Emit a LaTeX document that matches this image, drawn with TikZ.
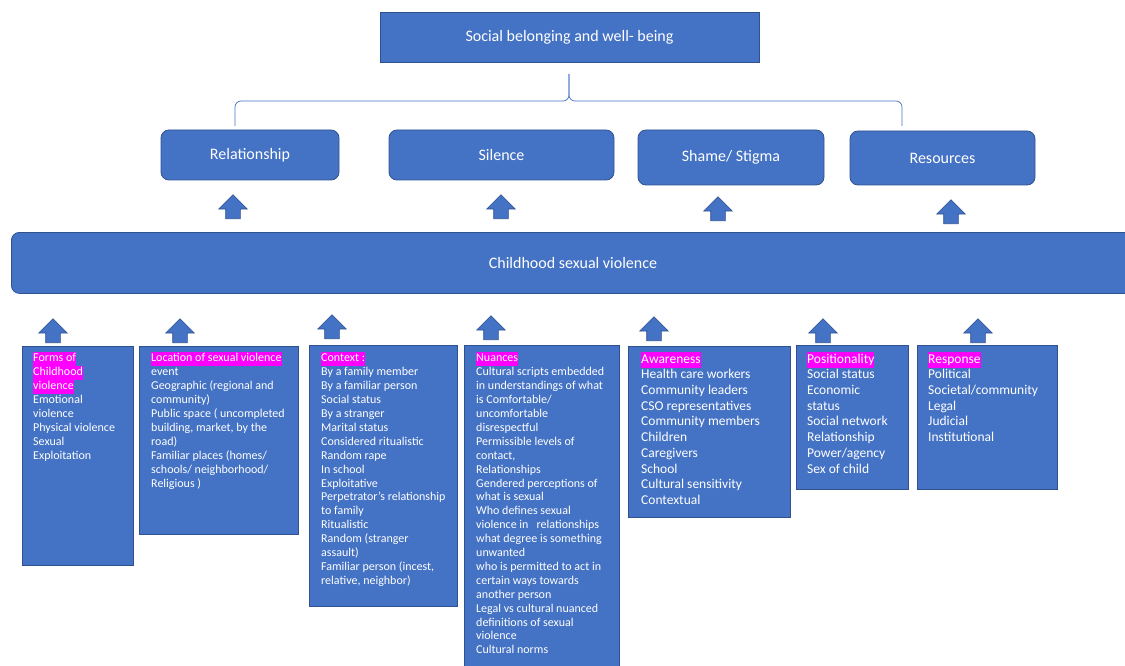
\documentclass[tikz,border=0pt]{standalone}
\usepackage{fontspec}
\setmainfont{Carlito}
\usetikzlibrary{shapes.arrows,positioning}
\definecolor{boxblue}{HTML}{4472C4}
\definecolor{edgeblue}{HTML}{2F528F}
\definecolor{hlpink}{HTML}{FF00FF}
\newcommand{\hl}[1]{{\setlength{\fboxsep}{0pt}\colorbox{hlpink}{\strut #1}}}
\tikzset{
    mybox/.style={draw=edgeblue,fill=boxblue,line width=0.8pt,text=white,inner sep=0pt},
    mytop/.style={mybox,rounded corners=8pt,font=\fontsize{16}{19}\selectfont},
    mylist/.style={mybox,anchor=north west},
    mytext/.style={text=white,anchor=north west,align=left,inner sep=0pt,font=\fontsize{12}{13.9}\selectfont},
    mytextbig/.style={mytext,font=\fontsize{13.5}{15.7}\selectfont},
    myarrow/.style={single arrow,shape border rotate=90,anchor=tail,draw=edgeblue,fill=boxblue,line width=0.6pt,
        minimum height=24pt,single arrow head extend=7pt,single arrow tip angle=90,inner xsep=7pt,inner ysep=0pt},
    mybrace/.style={draw=boxblue,line width=0.7pt,rounded corners=6pt}
}

\begin{document}
\begin{tikzpicture}[x=1pt,y=-1pt]
  \clip (0,0) rectangle (1125,666);
  % top level
  \node[mybox,minimum width=379pt,minimum height=50pt,font=\fontsize{16}{19}\selectfont] (wellbeing) at (569.5,37) {Social belonging and well- being};
  \node[mytop,minimum width=178pt,minimum height=50pt] (relation) at (250,155) {Relationship};
  \node[mytop,minimum width=225pt,minimum height=50pt] (silence) at (501.5,155) {Silence};
  \node[mytop,minimum width=186pt,minimum height=55pt] (shame) at (731,157.5) {Shame/ Stigma};
  \node[mytop,minimum width=185pt,minimum height=54pt] (resources) at (942.5,158) {Resources};
  % brace
  \coordinate (bt) at (569,74);
  \coordinate (bl) at (235,126);
  \coordinate (br) at (902,126);
  \draw[mybrace] (bt) |- (235,101) -- (bl);
  \draw[mybrace] (bt) |- (902,101) -- (br);
  % arrows to the themes
  \node[myarrow] (ua1) at (233,219) {};
  \node[myarrow] (ua2) at (501,219) {};
  \node[myarrow] (ua3) at (718,221) {};
  \node[myarrow] (ua4) at (951,224) {};
  % main bar (runs off the right edge)
  \node[mytop,minimum width=1160pt,minimum height=61pt,anchor=north west] (csv) at (11,232) {};
  \node[font=\fontsize{16}{19}\selectfont,text=white] (csvlabel) at (573,263) {Childhood sexual violence};
  % arrows from the lists
  \node[myarrow] (la1) at (53,343) {};
  \node[myarrow] (la2) at (180,343) {};
  \node[myarrow] (la3) at (332,339) {};
  \node[myarrow] (la4) at (491,340) {};
  \node[myarrow] (la5) at (654,341) {};
  \node[myarrow] (la6) at (823,343) {};
  \node[myarrow] (la7) at (978,343) {};
  % lists
  \node[mylist,minimum width=111pt,minimum height=219pt] (forms) at (22,346) {};
  \node[mytext] (formstext) at ([shift={(11,6)}]forms.north west)
    {\hl{Forms of}\\ \hl{Childhood}\\ \hl{violence}\\ Emotional\\ violence\\ Physical violence\\ Sexual\\ Exploitation};
  \node[mylist,minimum width=159pt,minimum height=188pt] (location) at (139,346) {};
  \node[mytext] (locationtext) at ([shift={(12,6)}]location.north west)
    {\hl{Location of sexual violence}\\ event\\ Geographic (regional and\\ community)\\ Public space ( uncompleted\\ building, market, by the\\ road)\\ Familiar places (homes/\\ schools/ neighborhood/\\ Religious )};
  \node[mylist,minimum width=148pt,minimum height=261pt] (context) at (309,345) {};
  \node[mytext] (contexttext) at ([shift={(12,7)}]context.north west)
    {\hl{Context :}\\ By a family member\\ By a familiar person\\ Social status\\ By a stranger\\ Marital status\\ Considered ritualistic\\ Random rape\\ In school\\ Exploitative\\ Perpetrator’s relationship\\ to family\\ Ritualistic\\ Random (stranger\\ assault)\\ Familiar person (incest,\\ relative, neighbor)};
  \node[mylist,minimum width=155pt,minimum height=330pt] (nuances) at (464,345) {};
  \node[mytext] (nuancestext) at ([shift={(12,7)}]nuances.north west)
    {\hl{Nuances}\\ Cultural scripts embedded\\ in understandings of what\\ is Comfortable/\\ uncomfortable\\ disrespectful\\ Permissible levels of\\ contact,\\ Relationships\\ Gendered perceptions of\\ what is sexual\\ Who defines sexual\\ violence in\ \ \ relationships\\ what degree is something\\ unwanted\\ who is permitted to act in\\ certain ways towards\\ another person\\ Legal vs cultural nuanced\\ definitions of sexual\\ violence\\ Cultural norms};
  \node[mylist,minimum width=162pt,minimum height=171pt] (awareness) at (628,346) {};
  \node[mytextbig] (awarenesstext) at ([shift={(13,6)}]awareness.north west)
    {\hl{Awareness}\\ Health care workers\\ Community leaders\\ CSO representatives\\ Community members\\ Children\\ Caregivers\\ School\\ Cultural sensitivity\\ Contextual};
  \node[mylist,minimum width=112pt,minimum height=144pt] (position) at (796,345) {};
  \node[mytextbig] (positiontext) at ([shift={(11,7)}]position.north west)
    {\hl{Positionality}\\ Social status\\ Economic\\ status\\ Social network\\ Relationship\\ Power/agency\\ Sex of child};
  \node[mylist,minimum width=140pt,minimum height=144pt] (response) at (917,345) {};
  \node[mytextbig] (responsetext) at ([shift={(11,7)}]response.north west)
    {\hl{Response}\\ Political\\ Societal/community\\ Legal\\ Judicial\\ Institutional};
\end{tikzpicture}
\end{document}
